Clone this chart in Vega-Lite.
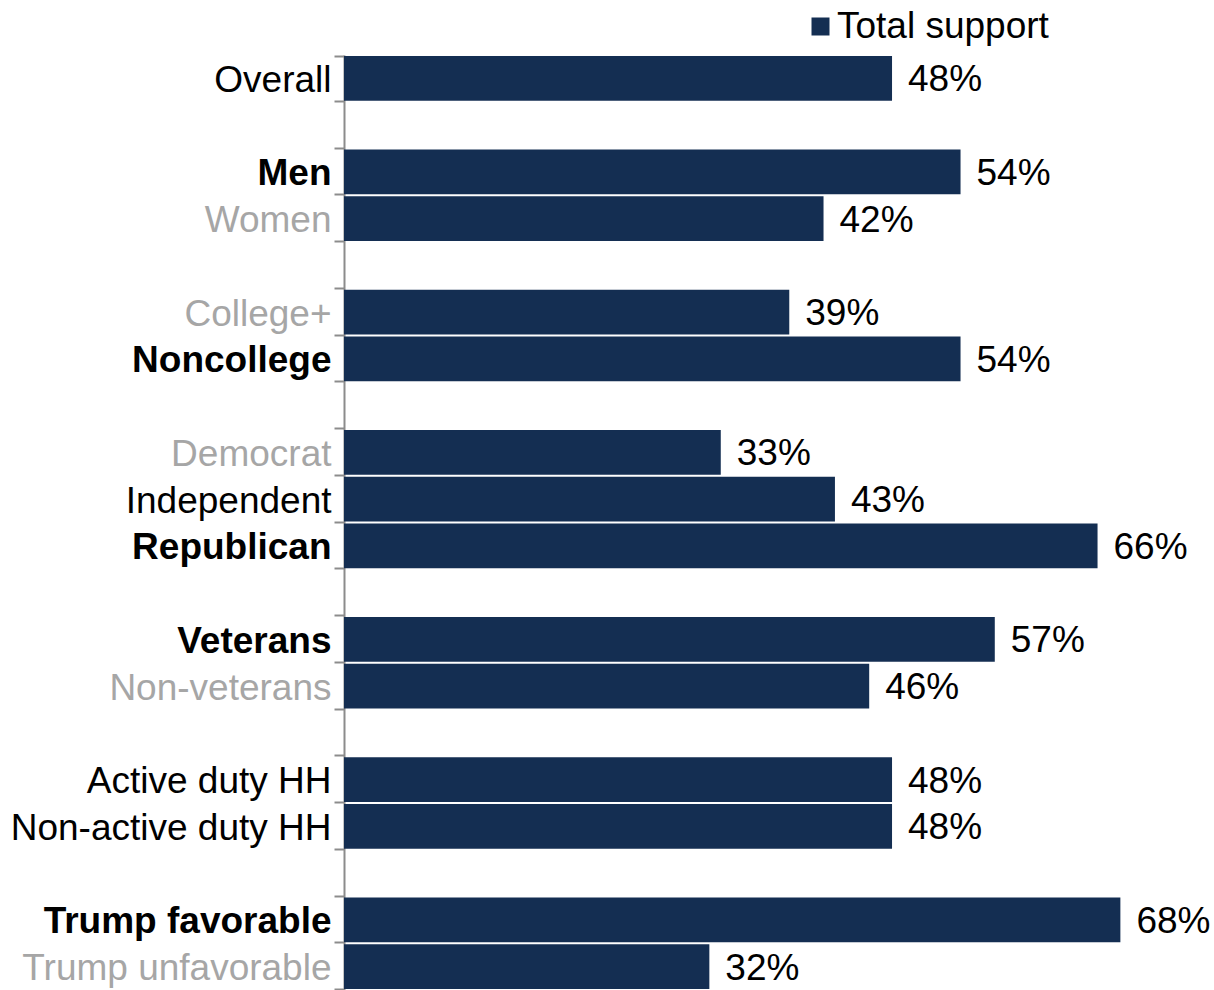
{
  "$schema": "https://vega.github.io/schema/vega-lite/v6.json",
  "autosize": "none",
  "width": 870,
  "height": 935,
  "padding": {"left": 344, "top": 55, "right": 0, "bottom": 0},
  "background": "white",
  "config": {
    "view": {"stroke": null},
    "font": "Liberation Sans"
  },
  "data": {
    "values": [
      {"group": "Overall", "series": "Total support", "value": 0.48},
      {"group": "Men", "series": "Total support", "value": 0.54},
      {"group": "Women", "series": "Total support", "value": 0.42},
      {"group": "College+", "series": "Total support", "value": 0.39},
      {"group": "Noncollege", "series": "Total support", "value": 0.54},
      {"group": "Democrat", "series": "Total support", "value": 0.33},
      {"group": "Independent", "series": "Total support", "value": 0.43},
      {"group": "Republican", "series": "Total support", "value": 0.66},
      {"group": "Veterans", "series": "Total support", "value": 0.57},
      {"group": "Non-veterans", "series": "Total support", "value": 0.46},
      {"group": "Active duty HH", "series": "Total support", "value": 0.48},
      {"group": "Non-active duty HH", "series": "Total support", "value": 0.48},
      {"group": "Trump favorable", "series": "Total support", "value": 0.68},
      {"group": "Trump unfavorable", "series": "Total support", "value": 0.32}
    ]
  },
  "encoding": {
    "y": {
      "field": "group",
      "type": "nominal",
      "scale": {
        "domain": ["Overall", " ", "Men", "Women", "  ", "College+", "Noncollege", "   ", "Democrat", "Independent", "Republican", "    ", "Veterans", "Non-veterans", "     ", "Active duty HH", "Non-active duty HH", "      ", "Trump favorable", "Trump unfavorable"],
        "paddingInner": 0.04,
        "paddingOuter": 0.02
      },
      "axis": {
        "title": null,
        "domain": true,
        "domainColor": "#8c8c8c",
        "domainWidth": 2,
        "ticks": true,
        "tickBand": "extent",
        "tickColor": "#8c8c8c",
        "tickWidth": 2,
        "tickSize": 10,
        "labelPadding": 3,
        "labelOffset": 2,
        "labelFontSize": 37,
        "labelFont": "Liberation Sans",
        "labelLimit": 400,
        "labelColor": {
          "condition": {"test": "indexof(['Women','College+','Democrat','Non-veterans','Trump unfavorable'], datum.value) >= 0", "value": "#a6a6a6"},
          "value": "#000000"
        },
        "labelFontWeight": {
          "condition": {"test": "indexof(['Men','Noncollege','Republican','Veterans','Trump favorable'], datum.value) >= 0", "value": "bold"},
          "value": "normal"
        },
        "grid": false
      }
    },
    "x": {
      "field": "value",
      "type": "quantitative",
      "scale": {"domain": [0, 0.762], "nice": false, "zero": true},
      "axis": null
    }
  },
  "layer": [
    {
      "mark": {"type": "bar", "color": "#142e52"},
      "encoding": {
        "color": {
          "field": "series",
          "type": "nominal",
          "scale": {"range": ["#142e52"]},
          "legend": {
            "title": null,
            "orient": "none",
            "legendX": 458,
            "legendY": -47,
            "padding": 0,
            "symbolType": "square",
            "symbolSize": 324,
            "symbolStrokeWidth": 0,
            "labelFontSize": 37,
            "labelFont": "Liberation Sans",
            "labelColor": "#000000",
            "labelOffset": -2,
            "labelLimit": 400
          }
        }
      }
    },
    {
      "mark": {"type": "text", "align": "left", "baseline": "middle", "dx": 16, "dy": 2, "fontSize": 37, "font": "Liberation Sans", "color": "#000000"},
      "encoding": {
        "text": {"field": "value", "type": "quantitative", "format": ".0%"}
      }
    }
  ]
}
